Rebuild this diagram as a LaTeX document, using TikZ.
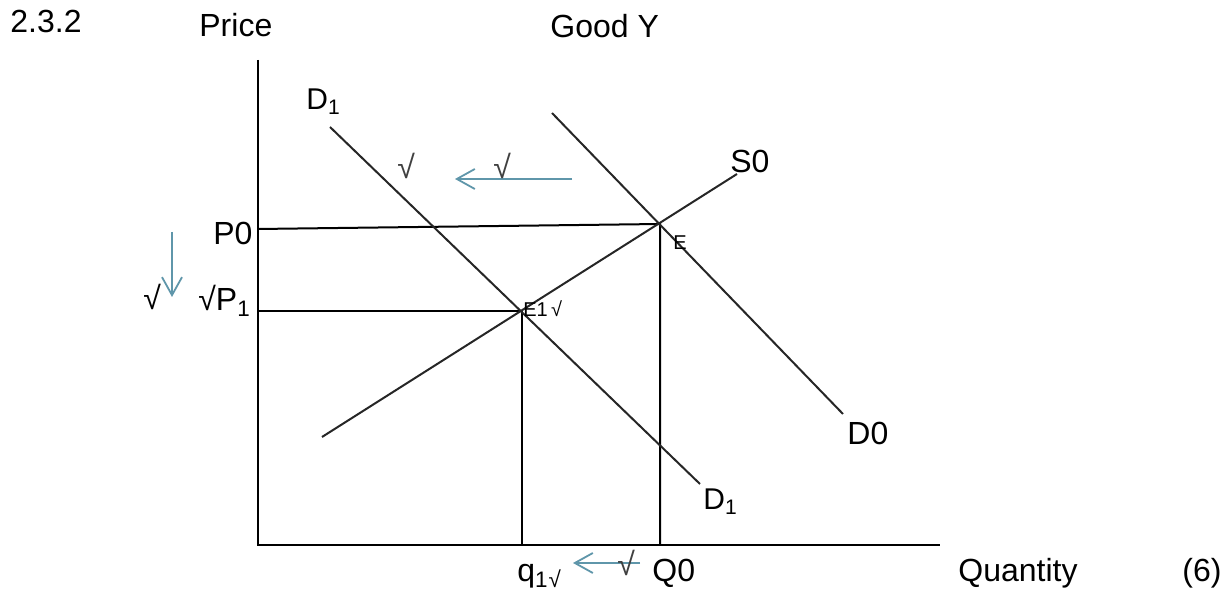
\documentclass[tikz,border=0pt]{standalone}
\usepackage{fontspec}
\setmainfont{Liberation Sans}
\usetikzlibrary{arrows.meta}
\definecolor{arrowblue}{RGB}{95,150,170}
\begin{document}
\begin{tikzpicture}[x=0.5pt,y=-0.5pt,
  axis/.style={line width=1.1pt,black},
  curve/.style={line width=1pt,black!85},
  guide/.style={line width=1pt,black},
  shiftarrow/.style={line width=0.9pt,arrowblue,-{Straight Barb[length=9pt,width=10pt]}},
  lbl/.style={inner sep=0pt,anchor=base west,font=\fontsize{16}{19}\selectfont},
  midlbl/.style={inner sep=0pt,anchor=base west,font=\fontsize{15}{18}\selectfont},
  tick/.style={inner sep=0pt,anchor=base west,text=black!75,font=\fontsize{16}{19}\selectfont},
  small/.style={inner sep=0pt,anchor=base west,font=\fontsize{10}{12}\selectfont},
]
\useasboundingbox (0,0) rectangle (1223,592);
% key points
\coordinate (top) at (258,60);
\coordinate (O) at (258,545);
\coordinate (xend) at (940,545);
\coordinate (E) at (660,224);
\coordinate (E1) at (522,311);
\coordinate (P0) at (258,229);
\coordinate (P1) at (258,311);
\coordinate (Q0) at (660,545);
\coordinate (q1) at (522,545);
\coordinate (S0a) at (322,437);
\coordinate (S0b) at (737,174);
\coordinate (D1a) at (330,127);
\coordinate (D1b) at (700,484);
\coordinate (D0a) at (552,113);
\coordinate (D0b) at (843,414);
% axes
\draw[axis] (top) -- (O) -- (xend);
% guides
\draw[guide] (P0) -- (E) -- (Q0);
\draw[guide] (P1) -- (E1) -- (q1);
% curves
\draw[curve] (S0a) -- (S0b);
\draw[curve] (D1a) -- (D1b);
\draw[curve] (D0a) -- (D0b);
% blue shift arrows
\coordinate (ta) at (572,179);
\coordinate (tb) at (455,179);
\coordinate (la) at (172,232);
\coordinate (lb) at (172,297);
\coordinate (ba) at (640,563);
\coordinate (bb) at (573,563);
\draw[shiftarrow] (ta) -- (tb);
\draw[shiftarrow] (la) -- (lb);
\draw[shiftarrow] (ba) -- (bb);
% labels
\node[lbl] (num) at (10,33) {2.3.2};
\node[lbl] (price) at (199,37) {Price};
\node[lbl] (good) at (550,38) {Good Y};
\node[midlbl] (d1top) at (306,110) {D\textsubscript{1}};
\node[midlbl] (d1bot) at (703,510) {D\textsubscript{1}};
\node[lbl] (d0) at (847,445) {D0};
\node[lbl] (s0) at (730,173) {S0};
\node[lbl] (p0) at (213,245) {P0};
\node[lbl] (p1) at (198,311) {√P\textsubscript{1}};
\node[lbl] (chkl) at (143,310) {√};
\node[lbl] (q1l) at (517,582) {q\textsubscript{1}\textsubscript{√}};
\node[lbl] (q0l) at (652,582) {Q0};
\node[lbl] (qty) at (958,582) {Quantity};
\node[lbl,anchor=base east] (six) at (1222,582) {(6)};
\node[tick] (chkd) at (397,179) {√};
\node[tick] (chkt) at (493,179) {√};
\node[tick] (chkb) at (617,576) {√};
\node[small] (e1l) at (523,317) {E1\,√};
\node[small] (el) at (673,250) {E};
\end{tikzpicture}
\end{document}
